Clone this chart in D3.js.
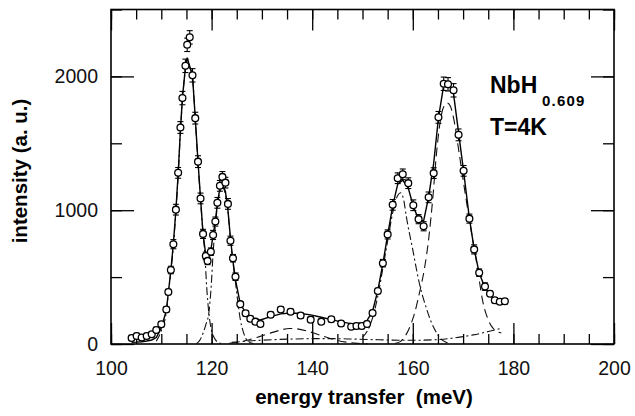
<!DOCTYPE html>
<html><head><meta charset="utf-8">
<script src="https://cdn.jsdelivr.net/npm/d3@7"></script>
<style>body{margin:0;background:#fff} svg{display:block}</style>
</head><body>
<svg id="chart" width="635" height="416"></svg>
<script>
// ---- data ----
const energy = [104.1,105.1,106.1,107.1,108.1,109.0,110.0,111.0,111.4,111.9,
  112.4,112.9,113.35,113.8,114.2,114.8,115.15,115.65,116.2,116.75,
  117.3,117.8,118.3,118.85,119.2,119.85,120.3,120.75,121.15,121.65,
  122.15,122.75,123.25,123.75,124.25,124.75,125.7,126.75,127.7,128.7,
  129.7,131.75,133.75,135.7,137.7,139.7,141.8,143.8,145.75,147.75,
  148.8,149.85,150.9,152.0,153.05,154.05,155.0,156.0,157.0,158.0,
  159.1,160.1,161.15,162.15,163.15,164.15,165.1,166.15,167.0,168.1,
  169.1,170.1,171.25,172.2,173.2,174.35,175.35,176.3,177.3,178.3];
const intensity = [45,60,49,60,73,105,148,258,389,553,
  746,1004,1279,1618,1838,2079,2236,2292,2008,1688,
  1363,1088,823,658,621,690,815,915,1055,1182,
  1249,1206,1047,772,641,503,298,230,189,167,
  150,219,258,241,213,182,167,185,153,129,
  135,135,150,232,396,604,819,1040,1239,1268,
  1202,1037,933,880,1096,1277,1694,1945,1941,1896,
  1563,1294,937,707,533,429,376,327,316,319];
const errors = [20,20,20,20,20,20,20,20,20,28,
  34,40,40,44,50,50,50,50,50,44,
  44,40,34,28,28,28,34,34,40,40,
  40,40,40,34,28,28,20,20,20,20,
  20,20,20,20,20,20,20,20,20,20,
  20,20,20,20,20,28,34,40,40,40,
  40,40,34,34,40,40,44,50,50,50,
  44,40,34,34,28,28,20,20,20,20];
const fitTotal = [12,14,17,22,30,48,120,250,385,550,
  750,1000,1270,1600,1840,2070,2140,2075,2005,1690,
  1360,1090,820,665,640,700,815,920,1050,1165,
  1195,1140,1000,790,620,480,300,235,205,185,
  180,205,225,232,228,218,200,182,165,152,
  150,155,175,245,400,600,815,1030,1195,1225,
  1165,1030,930,920,1100,1350,1690,1935,1945,1870,
  1580,1290,940,710,530,420,370,330,320,320];
// fitted components [energy, intensity]
const peak1 = [[109.0,20],[110.0,100],[111.0,240],[111.4,375],[111.9,540],[112.4,735],[112.9,990],[113.35,1255],[113.8,1580],[114.2,1820],[114.8,2050],[115.2,2120],[115.65,2070],[116.2,1990],[116.75,1680],[117.3,1350],[117.8,1075],[118.3,830],[118.65,680],[119.0,440],[119.45,232],[119.9,115],[120.5,48],[121.2,14],[122.0,3]];
const peak2 = [[117.0,3],[117.6,25],[118.3,80],[118.9,150],[119.45,232],[119.9,420],[120.3,680],[120.75,890],[121.15,1030],[121.65,1140],[122.1,1175],[122.6,1140],[123.25,990],[123.75,780],[124.25,610],[124.75,460],[125.2,320],[125.7,185],[126.3,90],[126.8,42],[127.5,14],[128.3,3]];
const hump = [[123.5,5],[125.5,15],[127.5,32],[129.5,55],[131.5,80],[133.5,102],[135.5,116],[137.0,113],[139.0,97],[141.0,73],[143.0,48],[145.0,27],[147.0,13],[149.0,5],[151.0,1]];
const background = [[124.0,12],[128.0,24],[132.0,32],[136.0,37],[140.0,40],[144.0,40],[148.0,37],[152.0,33],[156.0,29],[160.0,28],[164.0,31],[168.0,44],[172.0,68],[175.0,93],[177.6,118]];
const peak3 = [[150.0,50],[151.0,100],[152.0,195],[153.0,350],[154.0,555],[155.0,770],[156.0,980],[157.0,1110],[157.6,1130],[158.2,1075],[158.7,955],[160.0,703],[161.3,454],[162.6,279],[163.6,170],[164.6,92],[165.5,40],[166.5,15],[167.5,5]];
const peak4 = [[156.5,5],[157.5,18],[158.5,60],[159.7,155],[160.5,250],[161.3,379],[162.3,560],[163.2,800],[164.0,1100],[164.7,1420],[165.4,1650],[166.1,1770],[166.9,1800],[167.5,1775],[168.1,1690],[169.2,1430],[170.4,1130],[171.2,940],[171.9,780],[172.6,628],[173.2,479],[173.9,320],[174.9,190],[175.9,120],[176.8,92],[177.6,82]];
const xTickLabels = [100,120,140,160,180,200];
const yTickLabels = [0,1000,2000];

// ---- layout ----
const L = 111, R = 614, T = 9.5, B = 344;
const x = d3.scaleLinear().domain([100,200]).range([L,R]);
const y = d3.scaleLinear().domain([0,2500]).range([B,T]);
const svg = d3.select('#chart');
const font = "'Liberation Sans', Arial, Helvetica, sans-serif";

function styleAxis(g){
  g.select('.domain').remove();
  g.selectAll('.tick line').attr('stroke','#000').attr('stroke-width',1.3);
  g.selectAll('.tick text').attr('font-family',font).attr('font-size','19.5px').attr('fill','#111');
}
const xMinor = d3.range(100,201,5), xMajor = xTickLabels;
const yMinor = d3.range(0,2501,500), yMajor = yTickLabels;

// bottom
svg.append('g').attr('transform',`translate(0,${B})`)
  .call(d3.axisBottom(x).tickValues(xMinor).tickSize(-10).tickFormat('')).call(styleAxis);
svg.append('g').attr('transform',`translate(0,${B})`)
  .call(d3.axisBottom(x).tickValues(xMajor).tickSize(-21).tickPadding(17).tickFormat(d3.format('d'))).call(styleAxis);
// top
svg.append('g').attr('transform',`translate(0,${T})`)
  .call(d3.axisTop(x).tickValues(xMinor).tickSize(-10).tickFormat('')).call(styleAxis);
svg.append('g').attr('transform',`translate(0,${T})`)
  .call(d3.axisTop(x).tickValues(xMajor).tickSize(-21).tickFormat('')).call(styleAxis);
// left
svg.append('g').attr('transform',`translate(${L},0)`)
  .call(d3.axisLeft(y).tickValues(yMinor).tickSize(-11).tickFormat('')).call(styleAxis);
svg.append('g').attr('transform',`translate(${L},0)`)
  .call(d3.axisLeft(y).tickValues(yMajor).tickSize(-23).tickPadding(13).tickFormat(d3.format('d'))).call(styleAxis);
// right
svg.append('g').attr('transform',`translate(${R},0)`)
  .call(d3.axisRight(y).tickValues(yMinor).tickSize(-11).tickFormat('')).call(styleAxis);
svg.append('g').attr('transform',`translate(${R},0)`)
  .call(d3.axisRight(y).tickValues(yMajor).tickSize(-23).tickFormat('')).call(styleAxis);

// frame
svg.append('rect').attr('x',L).attr('y',T).attr('width',R-L).attr('height',B-T)
  .attr('fill','none').attr('stroke','#000').attr('stroke-width',1.6);

// components
const compLine = d3.line().x(d=>x(d[0])).y(d=>y(d[1])).curve(d3.curveMonotoneX);
const dashDot = '8,3,2,3', dashed = '9,5';
[[peak1,dashDot],[peak2,dashDot],[background,dashDot],[peak3,dashDot],[hump,dashed],[peak4,dashed]]
  .forEach(([data,dash])=>{
    svg.append('path').attr('d',compLine(data)).attr('fill','none')
      .attr('stroke','#111').attr('stroke-width',1.1).attr('stroke-dasharray',dash);
  });

// total fit
const pts = energy.map((e,i)=>({e, v:intensity[i], err:errors[i], f:fitTotal[i]}));
svg.append('path')
  .attr('d', d3.line().x(d=>x(d.e)).y(d=>y(d.f))(pts))
  .attr('fill','none').attr('stroke','#000').attr('stroke-width',1.4);

// error bars
const eb = svg.append('g').attr('stroke','#000').attr('stroke-width',1.1);
pts.forEach(d=>{
  eb.append('line').attr('x1',x(d.e)).attr('x2',x(d.e)).attr('y1',y(d.v-d.err)).attr('y2',y(d.v+d.err));
  eb.append('line').attr('x1',x(d.e)-3).attr('x2',x(d.e)+3).attr('y1',y(d.v+d.err)).attr('y2',y(d.v+d.err));
  eb.append('line').attr('x1',x(d.e)-3).attr('x2',x(d.e)+3).attr('y1',y(d.v-d.err)).attr('y2',y(d.v-d.err));
});
// points
svg.append('g').selectAll('circle').data(pts).join('circle')
  .attr('cx',d=>x(d.e)).attr('cy',d=>y(d.v)).attr('r',3.4)
  .attr('fill','#fff').attr('stroke','#000').attr('stroke-width',1.3);

// labels
svg.append('text').attr('x',364).attr('y',404).attr('text-anchor','middle')
  .attr('font-family',font).attr('font-weight','bold').attr('font-size','20.5px')
  .style('white-space','pre').text('energy transfer  (meV)');
svg.append('text').attr('transform','translate(27,171) rotate(-90)').attr('text-anchor','middle')
  .attr('font-family',font).attr('font-weight','bold').attr('font-size','20.5px')
  .style('white-space','pre').text('intensity (a. u.)');
svg.append('text').attr('x',490).attr('y',93).attr('font-family',font).attr('font-weight','bold')
  .attr('font-size','23px').text('NbH');
svg.append('text').attr('x',542).attr('y',106).attr('font-family',font).attr('font-weight','bold')
  .attr('font-size','15px').attr('letter-spacing','1.2px').text('0.609');
svg.append('text').attr('x',490).attr('y',135).attr('font-family',font).attr('font-weight','bold')
  .attr('font-size','23px').text('T=4K');
</script>
</body></html>
